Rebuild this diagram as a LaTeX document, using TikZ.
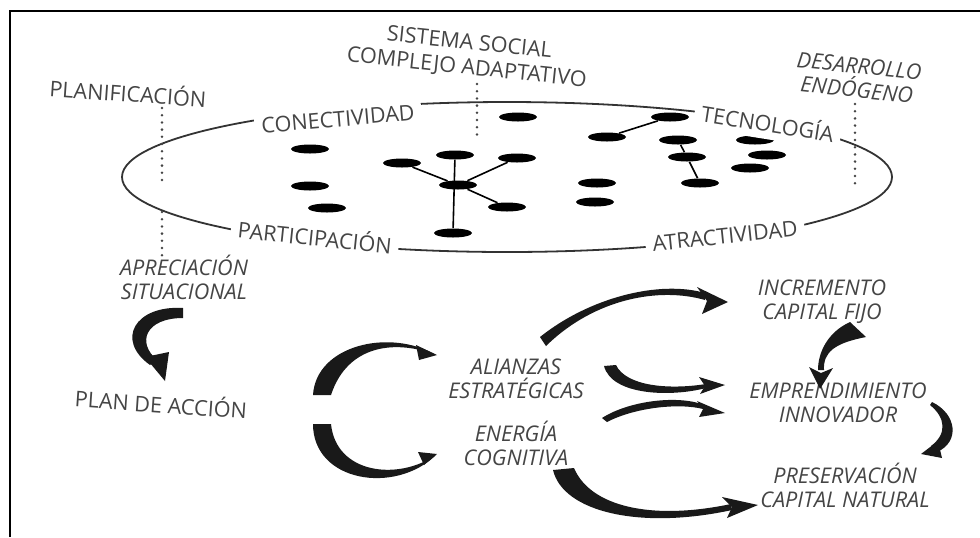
\documentclass[tikz,border=0pt]{standalone}
\usepackage{fontspec}
\setmainfont{Open Sans}
\usepackage{tikz}
\usetikzlibrary{positioning, shapes.geometric}
\definecolor{ink}{HTML}{454545}
\tikzstyle{txt} = [text=ink, font=\fontsize{10.8}{12.5}\selectfont, align=center, inner sep=1pt]
\tikzstyle{slanted} = [txt, font=\fontsize{10.8}{12}\selectfont\itshape]
\tikzstyle{onring} = [txt, fill=white, inner sep=3.5pt]
\tikzstyle{blob} = [ellipse, fill=black, minimum width=19pt, minimum height=4.5pt, inner sep=0pt]
\tikzstyle{link} = [line width=0.8pt]
\tikzstyle{dots} = [ink, line width=1.4pt, line cap=round, dash pattern=on 0pt off 3.6pt]
\tikzstyle{brush} = [fill=black!90]
\begin{document}
\begin{tikzpicture}[x=0.5pt, y=-0.5pt]
        \useasboundingbox (0,0) rectangle (980,537);
        \draw [line width=1.4pt] (10,537) -- (10,11) -- (980,11);
        \draw [line width=0.9pt, black!80] (507,177) ellipse [x radius=385, y radius=75];

        \node (n1) [blob] at (310,149) {};
        \node (n2) [blob] at (310,186) {};
        \node (n3) [blob] at (327,208) {};
        \node (n4) [blob] at (402,163) {};
        \node (n5) [blob] at (455,155) {};
        \node (hub) [blob] at (458,185) {};
        \node (n7) [blob] at (507,207) {};
        \node (n8) [blob] at (453,233) {};
        \node (n9) [blob] at (518,117) {};
        \node (n10) [blob] at (517,158) {};
        \node (n11) [blob] at (670,117) {};
        \node (n12) [blob] at (607,137) {};
        \node (n13) [blob] at (678,140) {};
        \node (n14) [blob] at (687,157) {};
        \node (n15) [blob] at (700,183) {};
        \node (n16) [blob] at (755,140) {};
        \node (n17) [blob] at (767,155) {};
        \node (n18) [blob] at (750,168) {};
        \node (n19) [blob] at (597,183) {};
        \node (n20) [blob] at (595,202) {};

        \draw [link] (hub) -- (n4);
        \draw [link] (hub) -- (n10);
        \draw [link] (hub) -- (n7);
        \draw [link] (n5) -- (n8);
        \draw [link] (n12) -- (n11);
        \draw [link] (n13) -- (n14) -- (n15);

        \node (conect) [onring, rotate=5] at (338,119) {CONECTIVIDAD};
        \node (tecno) [onring, rotate=-9] at (768,122) {TECNOLOGÍA};
        \node (partic) [onring, rotate=-6] at (315,236) {PARTICIPACIÓN};
        \node (atract) [onring, rotate=6] at (725,236) {ATRACTIVIDAD};

        \node (planif) [txt, rotate=-4] at (128,92) {PLANIFICACIÓN};
        \node (sistema) [txt, rotate=-6] at (468,56) {SISTEMA SOCIAL\\COMPLEJO ADAPTATIVO};
        \node (desarrollo) [slanted, rotate=-6] at (858,78) {DESARROLLO\\ENDÓGENO};
        \node (apre) [slanted] at (184,277) {APRECIACIÓN\\SITUACIONAL};
        \node (plan) [txt, rotate=-4] at (161,403) {PLAN DE ACCIÓN};
        \node (alianzas) [slanted] at (516,379) {ALIANZAS\\ESTRATÉGICAS};
        \node (energia) [slanted] at (516,443) {ENERGÍA\\COGNITIVA};
        \node (incremento) [slanted] at (822,302) {INCREMENTO\\CAPITAL FIJO};
        \node (emprend) [slanted] at (838,403) {EMPRENDIMIENTO\\INNOVADOR};
        \node (preserv) [slanted] at (845,485) {PRESERVACIÓN\\CAPITAL NATURAL};

        \coordinate (p1) at (162,108);
        \coordinate (p2) at (162,186);
        \coordinate (p3) at (162,212);
        \coordinate (p4) at (162,258);
        \coordinate (s1) at (477,84);
        \coordinate (s2) at (477,140);
        \coordinate (e1) at (855,104);
        \coordinate (e2) at (855,184);
        \draw [dots] (p1) -- (p2);
        \draw [dots] (p3) -- (p4);
        \draw [dots] (s1) -- (s2);
        \draw [dots] (e1) -- (e2);

        \fill [brush] (183,308) .. controls (135,305) and (115,340) .. (150,365) -- (157,360) .. controls (136,342) and (146,318) .. (183,318) -- cycle;
        \fill [brush] (145,357) -- (165,381) -- (169,352) -- cycle;

        \fill [brush] (313,395) .. controls (316,345) and (390,328) .. (436,355) .. controls (398,340) and (348,343) .. (331,395) -- cycle;
        \fill [brush] (416,345) -- (437,355) -- (419,360) -- cycle;
        \fill [brush] (313,424) .. controls (313,482) and (395,495) .. (436,455) .. controls (398,481) and (336,474) .. (331,424) -- cycle;
        \fill [brush] (418,452) -- (437,454) -- (424,465) -- cycle;

        \fill [brush] (540,337) .. controls (590,297) and (660,280) .. (705,293) -- (705,300) .. controls (660,287) and (595,298) .. (546,346) -- cycle;
        \fill [brush] (697,287) -- (728,302) -- (702,314) -- (707,301) -- cycle;

        \fill [brush] (850,322) .. controls (828,332) and (818,352) .. (818,370) -- (824,370) .. controls (823,352) and (835,343) .. (866,337) -- cycle;
        \fill [brush] (809,367) -- (820,389) -- (833,368) -- (821,373) -- cycle;

        \fill [brush] (604,366) .. controls (612,396) and (672,397) .. (706,388) -- (706,384) .. controls (668,390) and (626,386) .. (616,365) -- cycle;
        \fill [brush] (699,377) -- (725,385) -- (700,394) -- (705,386) -- cycle;
        \fill [brush] (602,418) .. controls (630,400) and (680,395) .. (704,405) -- (703,409) .. controls (680,403) and (636,407) .. (607,422) -- cycle;
        \fill [brush] (697,401) -- (725,413) -- (699,417) -- (703,409) -- cycle;

        \fill [brush] (553,470) .. controls (563,512) and (640,530) .. (732,510) -- (731,504) .. controls (650,521) and (590,506) .. (574,468) -- cycle;
        \fill [brush] (722,497) -- (758,505) -- (727,518) -- (732,507) -- cycle;

        \fill [brush] (932,402) .. controls (957,414) and (960,442) .. (937,452) -- (931,446) .. controls (947,434) and (946,418) .. (930,405) -- cycle;
        \fill [brush] (938,441) -- (921,454) -- (942,458) -- cycle;
\end{tikzpicture}
\end{document}
